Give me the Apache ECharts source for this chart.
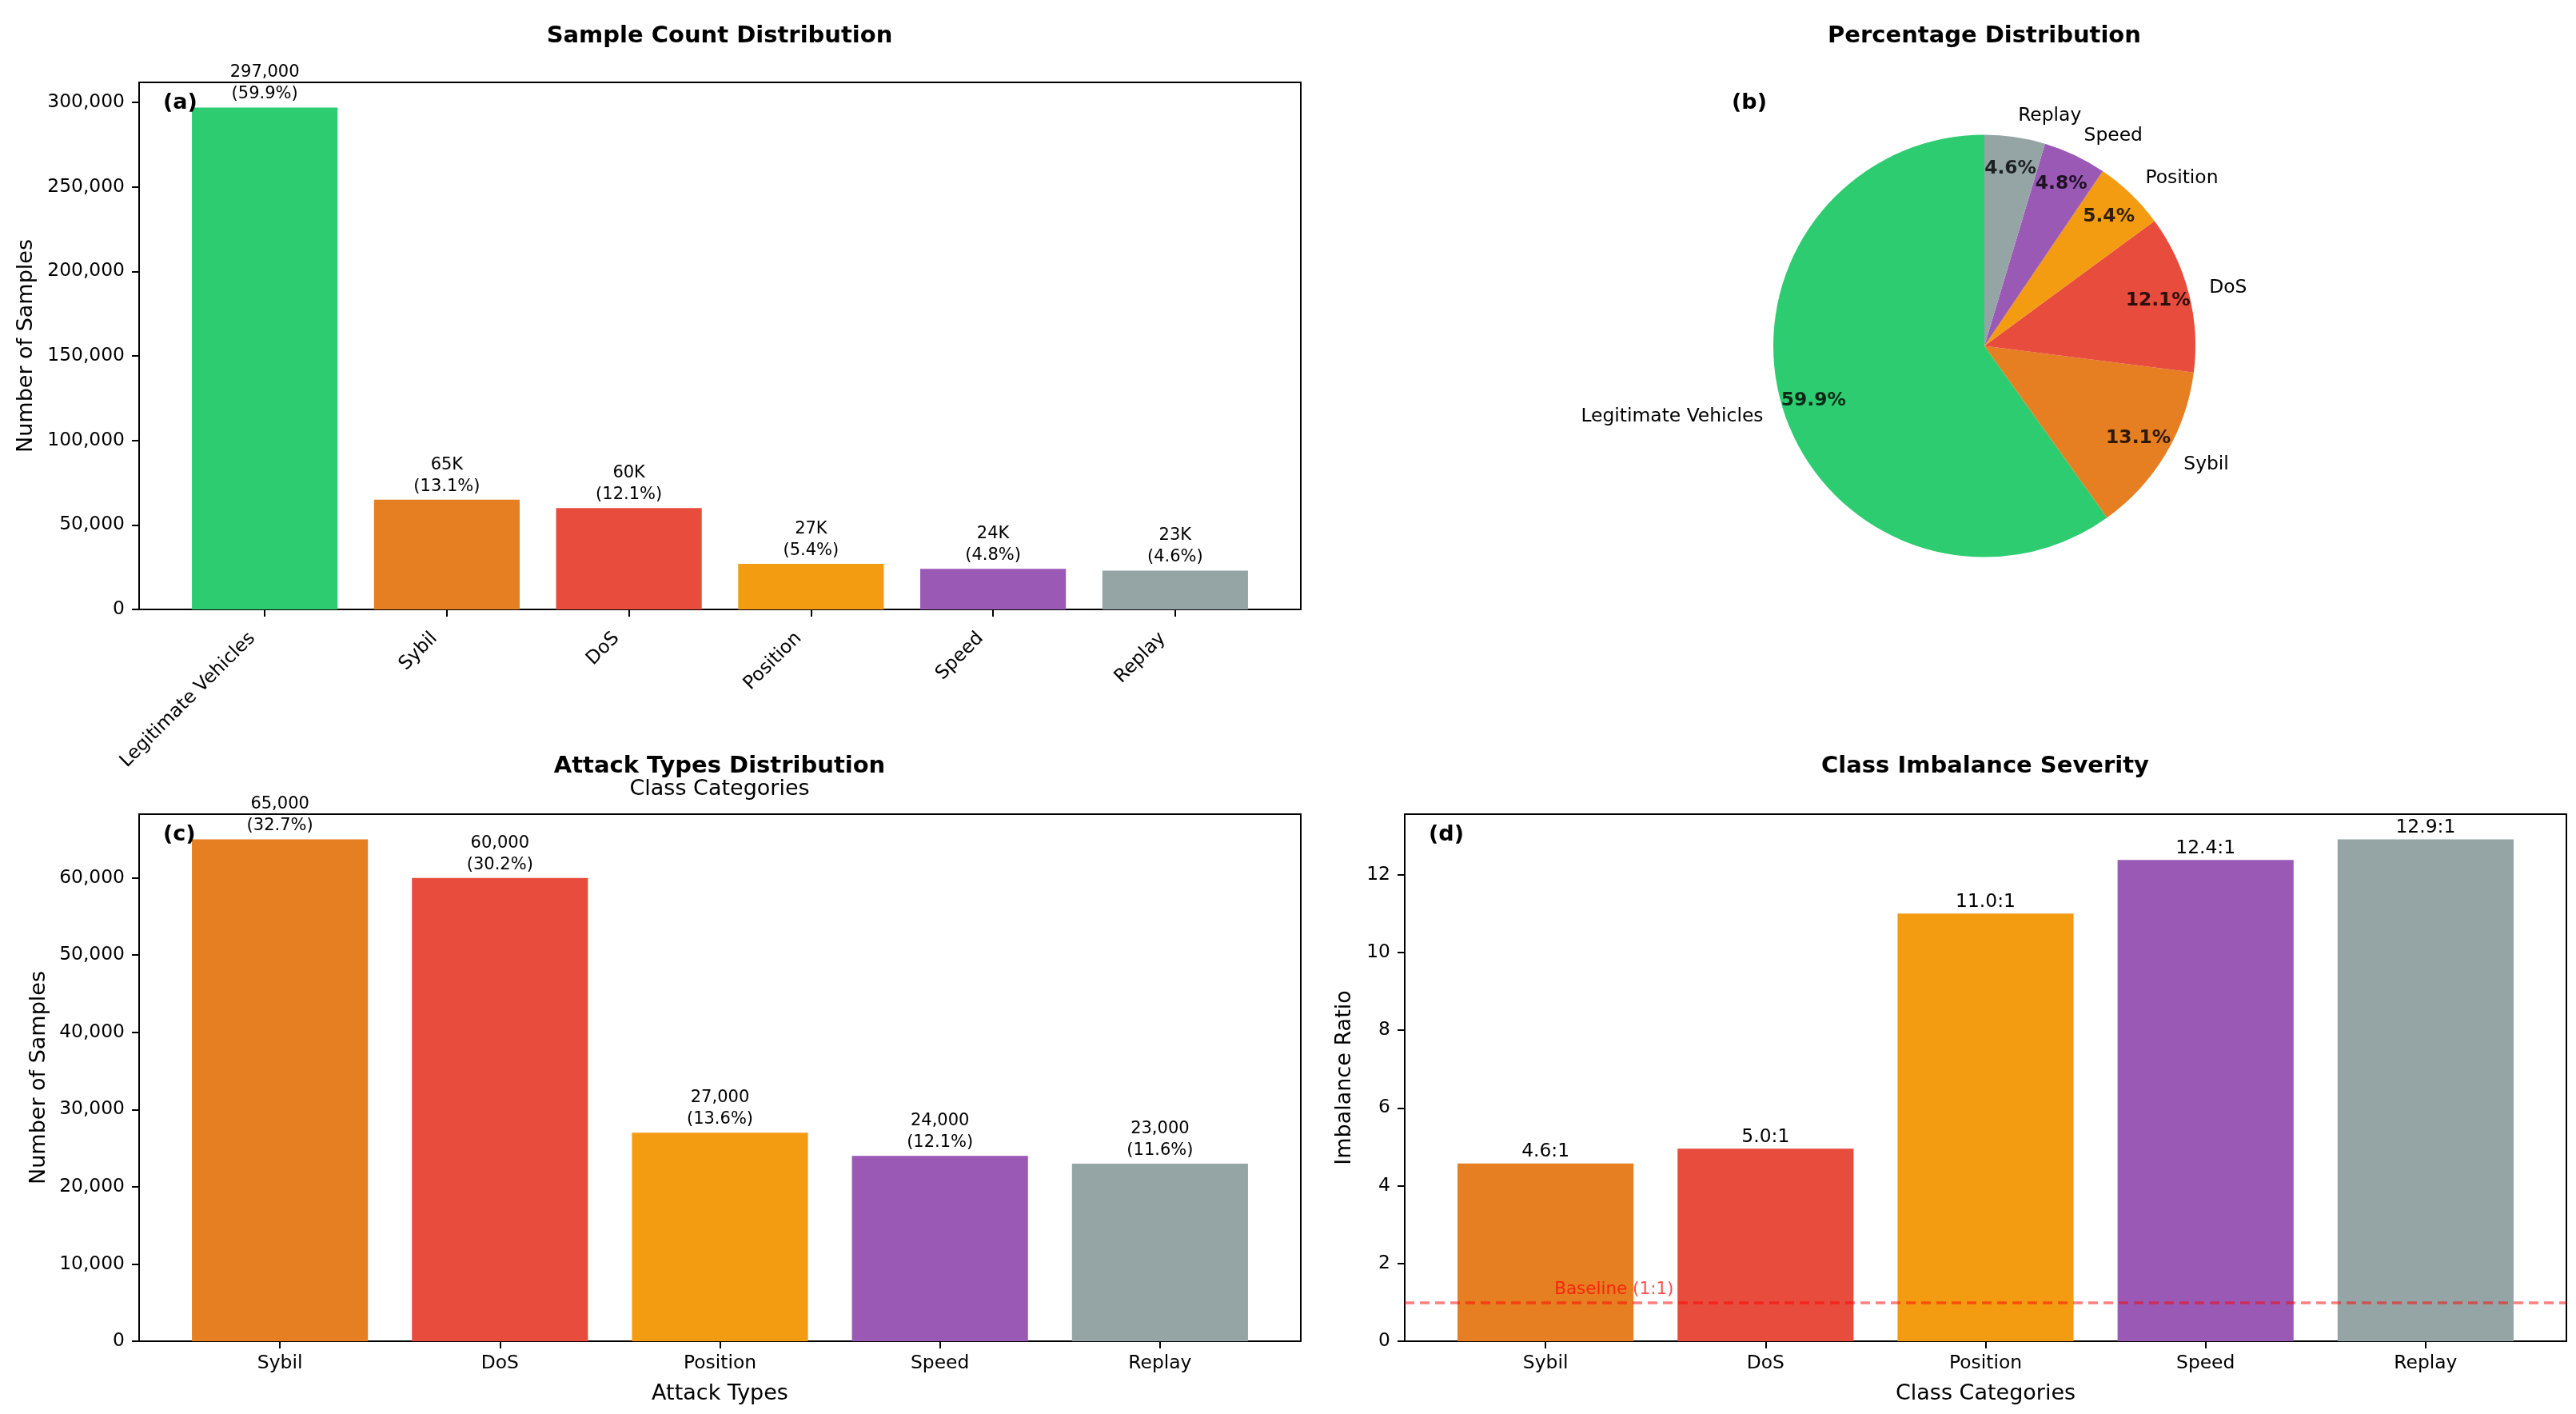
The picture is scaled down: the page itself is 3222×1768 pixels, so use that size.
<!DOCTYPE html>
<html>
<head>
<meta charset="utf-8">
<script src="https://cdn.jsdelivr.net/npm/echarts@6/dist/echarts.min.js"></script>
<style>
html,body{margin:0;padding:0;background:#fff;}
#chart{width:3222px;height:1768px;}
</style>
</head>
<body>
<div id="chart"></div>
<script>
// ---- data ----
const allCategories = ['Legitimate Vehicles', 'Sybil', 'DoS', 'Position', 'Speed', 'Replay'];
const sampleCounts = [297000, 65000, 60000, 27000, 24000, 23000];
const samplePercents = [59.9, 13.1, 12.1, 5.4, 4.8, 4.6];
const attackTypes = ['Sybil', 'DoS', 'Position', 'Speed', 'Replay'];
const attackCounts = [65000, 60000, 27000, 24000, 23000];
const attackPercents = [32.7, 30.2, 13.6, 12.1, 11.6];
const imbalanceRatios = [4.57, 4.95, 11.0, 12.38, 12.91];
const baselineRatio = 1;
const yTicksA = [0, 50000, 100000, 150000, 200000, 250000, 300000];
const yTicksC = [0, 10000, 20000, 30000, 40000, 50000, 60000];
const yTicksD = [0, 2, 4, 6, 8, 10, 12];
const allColors = ['#2ecc71', '#e67e22', '#e74c3c', '#f39c12', '#9b59b6', '#95a5a6'];
const attackColors = ['#e67e22', '#e74c3c', '#f39c12', '#9b59b6', '#95a5a6'];

// ---- styling helpers ----
const FONT = 'DejaVu Sans';
const fmt = v => Math.round(v).toLocaleString('en-US');
const idx = n => Array.from({length: n}, (_, i) => i);

function xAxisFor(gridIndex, cats, pad, rotate) {
  const n = cats.length;
  return {
    type: 'value', gridIndex: gridIndex,
    min: -0.4 - pad, max: (n - 1) + 0.4 + pad,
    splitLine: {show: false},
    axisLine: {show: true, onZero: false, lineStyle: {color: '#000', width: 2}},
    axisTick: {show: true, customValues: idx(n), length: 9, lineStyle: {color: '#000', width: 2}},
    axisLabel: {
      customValues: idx(n), formatter: v => cats[Math.round(v)],
      color: '#000', fontFamily: FONT, fontSize: 23.4,
      rotate: rotate || 0, margin: rotate ? 17 : 16,
      padding: rotate ? [0, 22, 0, 0] : 0
    }
  };
}
function yAxisFor(gridIndex, max, ticks, name, nameGap, labFmt) {
  return {
    type: 'value', gridIndex: gridIndex, min: 0, max: max,
    name: name, nameLocation: 'middle', nameRotate: 90, nameGap: nameGap,
    nameTextStyle: {color: '#000', fontFamily: FONT, fontSize: 27},
    splitLine: {show: false},
    axisLine: {show: true, onZero: false, lineStyle: {color: '#000', width: 2}},
    axisTick: {show: true, customValues: ticks, length: 9, lineStyle: {color: '#000', width: 2}},
    axisLabel: {customValues: ticks, formatter: labFmt, color: '#000', fontFamily: FONT, fontSize: 23.4, margin: 18}
  };
}
function gridBox(left, top, width, height) {
  return {left: left, top: top, width: width, height: height, show: true,
    borderColor: '#000', borderWidth: 2, backgroundColor: 'transparent',
    containLabel: false, outerBoundsMode: 'none'};
}
function barData(values, colors) {
  return values.map((v, i) => ({value: [i, v], itemStyle: {color: colors[i]}}));
}
function text(x, y, str, size, weight, color, align, valign) {
  return {type: 'text', x: x, y: y, z: 100, style: {
    text: str, fontFamily: FONT, fontSize: size, fontWeight: weight || 'normal',
    fill: color || '#000', align: align || 'center', verticalAlign: valign || 'middle'}};
}

// mid-angle (in percent of the full turn) of each pie slice, from the counts
const totalCount = sampleCounts.reduce((a, b) => a + b, 0);
const sliceMidPct = [];
(function () {
  let cum = 0;
  sampleCounts.forEach(v => { sliceMidPct.push((cum + v / 2) / totalCount * 100); cum += v; });
})();

const R = 264;
const PIE_CENTER = [2482, 432.5];
const option = {
  backgroundColor: '#fff',
  animation: false,
  grid: [
    gridBox(174, 103, 1453, 659),
    gridBox(174, 1018, 1453, 659),
    gridBox(1757, 1018, 1453, 659)
  ],
  polar: {center: PIE_CENTER, radius: R},
  angleAxis: {type: 'value', min: 0, max: 100, startAngle: 90, clockwise: false, show: false,
    axisLine: {show: false}, axisTick: {show: false}, axisLabel: {show: false}, splitLine: {show: false}},
  radiusAxis: {type: 'value', min: 0, max: 1, show: false,
    axisLine: {show: false}, axisTick: {show: false}, axisLabel: {show: false}, splitLine: {show: false}},
  xAxis: [
    xAxisFor(0, allCategories, 0.29, 45),
    Object.assign(xAxisFor(1, attackTypes, 0.24), {name: 'Attack Types', nameLocation: 'middle', nameGap: 52,
      nameTextStyle: {color: '#000', fontFamily: FONT, fontSize: 27}}),
    Object.assign(xAxisFor(2, attackTypes, 0.24), {name: 'Class Categories', nameLocation: 'middle', nameGap: 52,
      nameTextStyle: {color: '#000', fontFamily: FONT, fontSize: 27}})
  ],
  yAxis: [
    yAxisFor(0, 311850, yTicksA, 'Number of Samples', 128, fmt),
    yAxisFor(1, 68250, yTicksC, 'Number of Samples', 112, fmt),
    yAxisFor(2, 13.556, yTicksD, 'Imbalance Ratio', 62, v => String(v))
  ],
  series: [
    {
      type: 'bar', xAxisIndex: 0, yAxisIndex: 0, barWidth: '80%',
      data: barData(sampleCounts, allColors),
      label: {show: true, position: 'top', distance: 3, color: '#000', fontFamily: FONT, fontSize: 21, lineHeight: 27,
        formatter: p => {
          const v = sampleCounts[p.dataIndex];
          const main = v >= 100000 ? fmt(v) : Math.round(v / 1000) + 'K';
          return main + '\n(' + samplePercents[p.dataIndex].toFixed(1) + '%)';
        }}
    },
    {
      type: 'pie', center: PIE_CENTER, radius: [0, R], startAngle: 90, clockwise: false,
      avoidLabelOverlap: false, silent: true,
      data: sampleCounts.map((v, i) => ({name: allCategories[i], value: v, itemStyle: {color: allColors[i]}})),
      itemStyle: {borderWidth: 0},
      label: {show: true, position: 'outside', alignTo: 'none', distanceToLabelLine: 0,
        color: '#000', fontFamily: FONT, fontSize: 23.4, formatter: p => p.name},
      labelLine: {show: false, length: R * 0.1, length2: 0},
      emphasis: {disabled: true}
    },
    {
      type: 'scatter', coordinateSystem: 'polar', silent: true, z: 5,
      symbolSize: 0,
      data: sliceMidPct.map(a => [0.85, a]),
      label: {show: true, position: 'inside', color: '#000', fontFamily: FONT, fontSize: 23.4, fontWeight: 'bold',
        formatter: p => samplePercents[p.dataIndex].toFixed(1) + '%'},
      emphasis: {disabled: true}
    },
    {
      type: 'bar', xAxisIndex: 1, yAxisIndex: 1, barWidth: '80%',
      data: barData(attackCounts, attackColors),
      label: {show: true, position: 'top', distance: 3, color: '#000', fontFamily: FONT, fontSize: 21, lineHeight: 27,
        formatter: p => fmt(attackCounts[p.dataIndex]) + '\n(' + attackPercents[p.dataIndex].toFixed(1) + '%)'}
    },
    {
      type: 'bar', xAxisIndex: 2, yAxisIndex: 2, barWidth: '80%',
      data: barData(imbalanceRatios, attackColors),
      label: {show: true, position: 'top', distance: 3, color: '#000', fontFamily: FONT, fontSize: 23.4,
        formatter: p => imbalanceRatios[p.dataIndex].toFixed(1) + ':1'},
      markLine: {
        silent: true, symbol: ['none', 'none'], z: 10,
        label: {show: false},
        lineStyle: {color: 'rgba(255,0,0,0.5)', width: 3.5, type: [12, 7]},
        data: [{yAxis: baselineRatio}]
      },
      markPoint: {
        silent: true, symbolSize: 0,
        data: [{coord: [0.04, baselineRatio + 0.1], value: 0}],
        label: {show: true, position: [0, 0], align: 'left', verticalAlign: 'bottom',
          formatter: 'Baseline (1:1)', color: 'rgba(255,0,0,0.7)', fontFamily: FONT, fontSize: 21.5}
      }
    }
  ],
  graphic: [
    text(900, 45, 'Sample Count Distribution', 29, 'bold'),
    text(2482, 45, 'Percentage Distribution', 29, 'bold'),
    text(900, 958, 'Attack Types Distribution', 29, 'bold'),
    text(2483, 958, 'Class Imbalance Severity', 29, 'bold'),
    text(900, 987, 'Class Categories', 27, 'normal'),
    text(204, 129, '(a)', 27, 'bold', '#000', 'left'),
    text(2166, 129, '(b)', 27, 'bold', '#000', 'left'),
    text(204, 1044, '(c)', 27, 'bold', '#000', 'left'),
    text(1787, 1044, '(d)', 27, 'bold', '#000', 'left')
  ]
};

const chart = echarts.init(document.getElementById('chart'), null, {renderer: 'canvas'});
chart.setOption(option);
</script>
</body>
</html>
